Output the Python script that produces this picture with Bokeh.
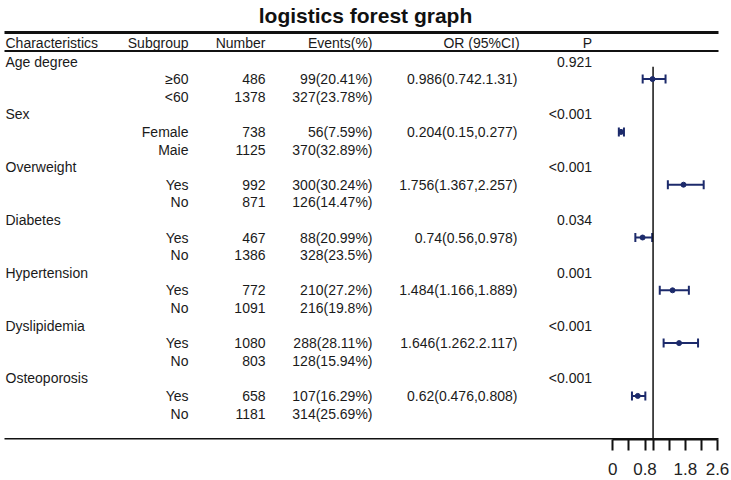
from bokeh.plotting import figure
from bokeh.models import (ColumnDataSource, Range1d, LinearAxis, FixedTicker,
                          Whisker, TeeHead)
from bokeh.core.properties import value
from bokeh.embed import file_html
from bokeh.resources import INLINE

# ---------------- data ----------------
characteristics = ["Age degree", "Sex", "Overweight", "Diabetes",
                   "Hypertension", "Dyslipidemia", "Osteoporosis"]
subgroups = [["\u226560", "<60"], ["Female", "Maie"], ["Yes", "No"], ["Yes", "No"],
             ["Yes", "No"], ["Yes", "No"], ["Yes", "No"]]
numbers = [[486, 1378], [738, 1125], [992, 871], [467, 1386],
           [772, 1091], [1080, 803], [658, 1181]]
events = [["99(20.41%)", "327(23.78%)"], ["56(7.59%)", "370(32.89%)"],
          ["300(30.24%)", "126(14.47%)"], ["88(20.99%)", "328(23.5%)"],
          ["210(27.2%)", "216(19.8%)"], ["288(28.11%)", "128(15.94%)"],
          ["107(16.29%)", "314(25.69%)"]]
or_labels = ["0.986(0.742.1.31)", "0.204(0.15,0.277)", "1.756(1.367,2.257)",
             "0.74(0.56,0.978)", "1.484(1.166,1.889)", "1.646(1.262.2.117)",
             "0.62(0.476,0.808)"]
or_values = [0.986, 0.204, 1.756, 0.74, 1.484, 1.646, 0.62]
or_lower = [0.742, 0.15, 1.367, 0.56, 1.166, 1.262, 0.476]
or_upper = [1.31, 0.277, 2.257, 0.978, 1.889, 2.117, 0.808]
p_values = ["0.921", "<0.001", "<0.001", "0.034", "0.001", "<0.001", "<0.001"]
headers = ["Characteristics", "Subgroup", "Number", "Events(%)", "OR (95%CI)", "P"]
axis_ticks = [0, 0.4, 0.8, 1.0, 1.4, 1.8, 2.2, 2.6]
axis_labels = {0: "0", 0.8: "0.8", 1.8: "1.8", 2.6: "2.6"}
ref_value = 1.0

# ---------------- layout ----------------
W, H = 731, 480
FRAME_BOTTOM = 439
ROW0_PX, ROW_PX = 61.0, 17.6
PX_PER_UNIT = (717.0 - 612.3) / 2.6
X0_PX = 612.3

navy = "#1c2a6b"
txt = "#1a1a1a"
font = value("Liberation Sans")

p = figure(width=W, height=H, output_backend="svg", toolbar_location=None,
           x_axis_type=None, y_axis_type=None,
           x_range=Range1d(-X0_PX / PX_PER_UNIT, (W - X0_PX) / PX_PER_UNIT),
           y_range=Range1d((FRAME_BOTTOM - ROW0_PX) / ROW_PX, -ROW0_PX / ROW_PX),
           min_border_left=0, min_border_right=0, min_border_top=0,
           min_border_bottom=H - FRAME_BOTTOM)
p.outline_line_color = None
p.background_fill_color = "white"
p.extra_x_ranges = {"px": Range1d(0, W)}
p.extra_y_ranges = {"py": Range1d(FRAME_BOTTOM, 0)}

# rows of the table
cat_rows, cat_text, p_text = [], [], []
sub_rows, sub_text, num_text, ev_text = [], [], [], []
for k, c in enumerate(characteristics):
    r = 3 * k
    cat_rows.append(r)
    cat_text.append(c)
    p_text.append(p_values[k])
    for j in range(2):
        sub_rows.append(r + 1 + j)
        sub_text.append(subgroups[k][j])
        num_text.append(str(numbers[k][j]))
        ev_text.append(events[k][j])
or_rows = [3 * k + 1 for k in range(len(characteristics))]

def col(xpx, ys, texts, align):
    src = ColumnDataSource(dict(x=[xpx] * len(ys), y=ys, t=texts))
    p.text(x="x", y="y", text="t", source=src, x_range_name="px",
           text_font=font, text_font_size="14px", text_color=txt,
           text_align=align, text_baseline="middle")

col(5, cat_rows, cat_text, "left")
col(591.5, cat_rows, p_text, "right")
col(188, sub_rows, sub_text, "right")
col(265, sub_rows, num_text, "right")
col(372, sub_rows, ev_text, "right")
col(517, or_rows, or_labels, "right")

# header
hx = [5, 188, 265, 372, 481, 591.5]
ha = ["left", "right", "right", "right", "center", "right"]
for x, h, a in zip(hx, headers, ha):
    p.text(x=[x], y=[42], text=[h], x_range_name="px", y_range_name="py",
           text_font=font, text_font_size="14px", text_color=txt,
           text_align=a, text_baseline="middle")

# title
p.text(x=[365], y=[15], text=["logistics forest graph"], x_range_name="px",
       y_range_name="py", text_font=font, text_font_size="21px",
       text_font_style="bold", text_color="#111", text_align="center",
       text_baseline="middle")

# table rules
p.segment(x0=[4], x1=[718], y0=[32], y1=[32], x_range_name="px",
          y_range_name="py", line_color="#111", line_width=3)
p.segment(x0=[4], x1=[718], y0=[50.5], y1=[50.5], x_range_name="px",
          y_range_name="py", line_color="#111", line_width=2)
p.segment(x0=[4], x1=[718], y0=[438.5], y1=[438.5], x_range_name="px",
          y_range_name="py", line_color="#111", line_width=2)

# reference line
p.segment(x0=[ref_value], x1=[ref_value], y0=[0.3], y1=[30],
          line_color="#111", line_width=1.5)

# forest marks
fsrc = ColumnDataSource(dict(y=or_rows, m=or_values, lo=or_lower, hi=or_upper))
w = Whisker(source=fsrc, base="y", lower="lo", upper="hi", dimension="width",
            line_color=navy, line_width=2,
            upper_head=TeeHead(size=9, line_color=navy, line_width=2),
            lower_head=TeeHead(size=9, line_color=navy, line_width=2))
p.add_layout(w)
p.scatter(x="m", y="y", source=fsrc, size=5, color=navy)

# axis
ax = LinearAxis(ticker=FixedTicker(ticks=axis_ticks), bounds=(0, 2.6))
ax.major_label_overrides = {t: axis_labels.get(t, "") for t in axis_ticks}
ax.axis_line_color = "#111"
ax.axis_line_width = 2
ax.major_tick_line_color = "#111"
ax.major_tick_line_width = 2
ax.major_tick_in = 0
ax.major_tick_out = 11
ax.minor_tick_line_color = None
ax.major_label_standoff = 12
ax.major_label_text_font = "Liberation Sans"
ax.major_label_text_font_size = "17px"
ax.major_label_text_color = "#222"
p.add_layout(ax, "below")

open("out.html", "w").write(file_html(p, INLINE))
